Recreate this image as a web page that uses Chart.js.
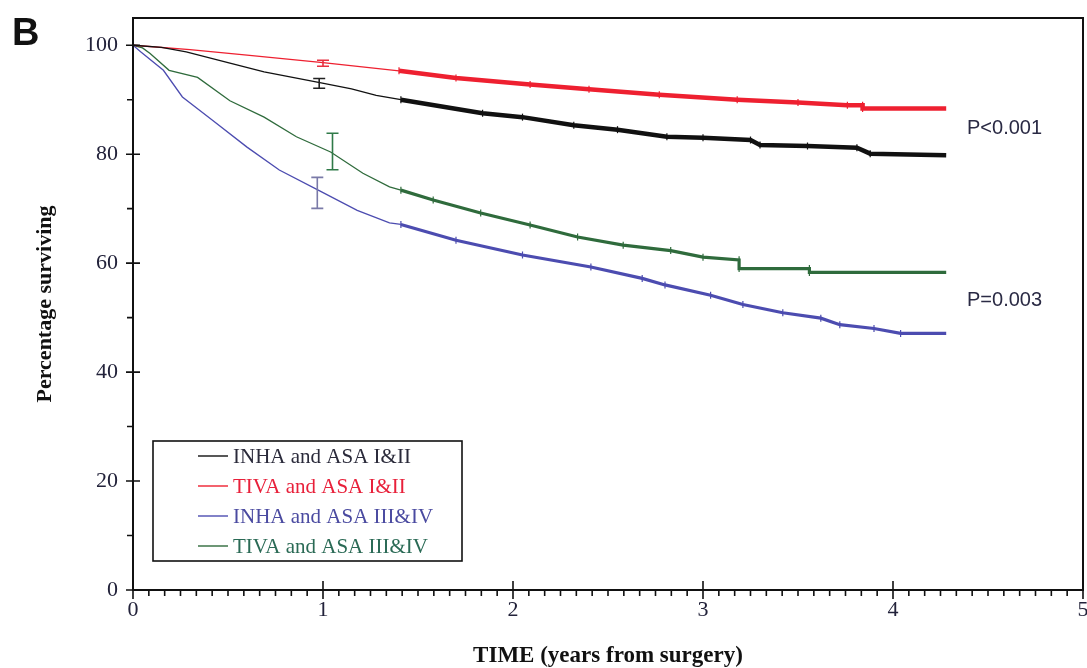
<!DOCTYPE html>
<html>
<head>
<meta charset="utf-8">
<script src="https://cdn.jsdelivr.net/npm/chart.js@4.4.0/dist/chart.umd.min.js"></script>
<style>
  html, body { margin: 0; padding: 0; background: #fff; }
  #wrap { width: 1087px; height: 668px; position: relative; }
</style>
</head>
<body>
<div id="wrap"><canvas id="survival"></canvas></div>
<script>
// Kaplan-Meier curves, time in years, survival in percent
var inhaLowT  = [0, 0.15, 0.28, 0.5, 0.69, 0.99, 1.15, 1.28, 1.41, 1.84, 2.05, 2.32, 2.55, 2.81, 3.0, 3.25, 3.3, 3.55, 3.81, 3.88, 4.28];
var inhaLowV  = [100, 99.6, 98.8, 96.8, 95.1, 93.1, 92.0, 90.8, 90.0, 87.5, 86.8, 85.3, 84.5, 83.2, 83.0, 82.6, 81.7, 81.5, 81.2, 80.1, 79.8];

var tivaLowT  = [0, 0.3, 0.6, 1.0, 1.4, 1.7, 2.09, 2.4, 2.77, 3.18, 3.5, 3.76, 3.84, 3.84, 4.28];
var tivaLowV  = [100, 99.2, 98.2, 96.8, 95.3, 94.0, 92.8, 91.9, 90.9, 90.0, 89.5, 89.0, 89.0, 88.4, 88.4];

var inhaHighT = [0, 0.04, 0.16, 0.26, 0.42, 0.6, 0.77, 0.98, 1.18, 1.35, 1.41, 1.7, 2.05, 2.41, 2.68, 2.8, 3.04, 3.21, 3.42, 3.62, 3.72, 3.9, 4.04, 4.28];
var inhaHighV = [100, 98.8, 95.4, 90.5, 86.2, 81.3, 77.1, 73.3, 69.7, 67.4, 67.1, 64.2, 61.5, 59.3, 57.2, 56.0, 54.1, 52.4, 50.9, 49.9, 48.7, 48.0, 47.1, 47.1];

var tivaHighT = [0, 0.05, 0.09, 0.19, 0.34, 0.51, 0.69, 0.86, 1.04, 1.21, 1.35, 1.41, 1.58, 1.83, 2.09, 2.34, 2.58, 2.83, 3.0, 3.19, 3.19, 3.56, 3.56, 4.28];
var tivaHighV = [100, 99.5, 98.5, 95.4, 94.1, 89.8, 86.8, 83.2, 80.4, 76.5, 74.0, 73.4, 71.6, 69.2, 67.0, 64.8, 63.3, 62.3, 61.1, 60.6, 59.0, 59.0, 58.3, 58.3];

var groupLabels = ['INHA and ASA I&II', 'TIVA and ASA I&II', 'INHA and ASA III&IV', 'TIVA and ASA III&IV'];

// 1-year estimates with confidence bars (same order as groupLabels)
var errT    = [0.98, 1.0, 0.97, 1.05];
var errV    = [93.0, 96.7, 72.9, 80.5];
var errHalf = [0.9, 0.55, 2.85, 3.35];

var pLabels = ['P<0.001', 'P=0.003'];
var pLevels = [84.8, 53.2];

var xTicks = [0, 1, 2, 3, 4, 5];
var yTicks = [0, 20, 40, 60, 80, 100];

var lineColors = ['#111111', '#ee2030', '#4c4cb0', '#2f6b3c'];
var textColors = ['#2a2a3a', '#e8203a', '#4a4aa0', '#2a6a55'];
var barColors  = ['#222222', '#e83040', '#7a7aa8', '#2f7a48'];

function points(ts, vs) {
  return ts.map(function (t, i) { return { x: t, y: vs[i] }; });
}

var censorFrom = 1.4;

function makeSet(i, ts, vs, band) {
  return {
    label: groupLabels[i],
    data: points(ts, vs),
    borderColor: lineColors[i],
    backgroundColor: lineColors[i],
    borderWidth: 1.3,
    tension: 0,
    fill: false,
    pointStyle: 'line',
    rotation: 90,
    pointBorderWidth: 1.2,
    pointRadius: function (ctx) { return ctx.raw && ctx.raw.x >= censorFrom && ctx.raw.x < 4.28 ? 3.5 : 0; },
    pointHoverRadius: 0,
    segment: {
      borderWidth: function (ctx) { return ctx.p0.parsed.x >= censorFrom - 0.01 ? band : 1.3; }
    }
  };
}

var serif = '"Liberation Serif", "Times New Roman", serif';
var sans = '"Liberation Sans", Arial, sans-serif';

// keep the plot box where the layout padding puts it
function noTickOverflow(s) {
  s.paddingTop = 0; s.paddingBottom = 0; s.paddingLeft = 0; s.paddingRight = 0;
}

// axes ticks, frame, error bars, p-values, legend box and panel letter
var decor = {
  id: 'decor',
  afterDatasetsDraw: function (chart) {
    var c = chart.ctx, xs = chart.scales.x, ys = chart.scales.y, a = chart.chartArea;
    c.save();

    // confidence bars at one year
    for (var i = 0; i < errT.length; i++) {
      var px = xs.getPixelForValue(errT[i]);
      var top = ys.getPixelForValue(errV[i] + errHalf[i]);
      var bot = ys.getPixelForValue(errV[i] - errHalf[i]);
      c.strokeStyle = barColors[i];
      c.lineWidth = 1.6;
      c.beginPath();
      c.moveTo(px, top); c.lineTo(px, bot);
      c.moveTo(px - 6, top); c.lineTo(px + 6, top);
      c.moveTo(px - 6, bot); c.lineTo(px + 6, bot);
      c.stroke();
    }

    // frame
    c.strokeStyle = '#111';
    c.lineWidth = 2;
    c.strokeRect(a.left, a.top, a.right - a.left, a.bottom - a.top);

    // y ticks: majors cross the axis, minors on the outside
    c.lineWidth = 1.6;
    c.beginPath();
    for (var v = 0; v <= 100; v += 10) {
      var py = ys.getPixelForValue(v);
      if (v % 20 === 0) { c.moveTo(a.left - 7, py); c.lineTo(a.left + 7, py); }
      else { c.moveTo(a.left - 6, py); c.lineTo(a.left, py); }
    }
    // x ticks: one per month, majors every year
    for (var m = 0; m <= 60; m++) {
      var qx = xs.getPixelForValue(m / 12);
      if (m % 12 === 0) { c.moveTo(qx, a.bottom - 9); c.lineTo(qx, a.bottom + 9); }
      else { c.moveTo(qx, a.bottom); c.lineTo(qx, a.bottom + 6); }
    }
    c.stroke();

    // p-values
    c.fillStyle = '#2a2a44';
    c.font = '20px ' + sans;
    c.textAlign = 'left';
    c.textBaseline = 'middle';
    for (var k = 0; k < pLabels.length; k++) {
      c.fillText(pLabels[k], 967, ys.getPixelForValue(pLevels[k]));
    }

    // legend
    var lx = 153, ly = 441, lw = 309, lh = 120;
    c.fillStyle = '#fff';
    c.fillRect(lx, ly, lw, lh);
    c.strokeStyle = '#111';
    c.lineWidth = 1.6;
    c.strokeRect(lx, ly, lw, lh);
    c.font = '21px ' + serif;
    chart.data.datasets.forEach(function (ds, j) {
      var ry = ly + 15 + j * 30;
      c.strokeStyle = ds.borderColor;
      c.lineWidth = 1.4;
      c.beginPath();
      c.moveTo(lx + 45, ry); c.lineTo(lx + 75, ry);
      c.stroke();
      c.fillStyle = textColors[j];
      c.fillText(ds.label, lx + 80, ry + 1);
    });

    // panel letter
    c.fillStyle = '#111';
    c.font = 'bold 38px ' + sans;
    c.textBaseline = 'alphabetic';
    c.fillText('B', 12, 45);

    c.restore();
  }
};

var ctx = document.getElementById('survival').getContext('2d');
var survivalChart = new Chart(ctx, {
  type: 'line',
  data: {
    datasets: [
      makeSet(0, inhaLowT, inhaLowV, 4.5),
      makeSet(1, tivaLowT, tivaLowV, 4.5),
      makeSet(2, inhaHighT, inhaHighV, 3.2),
      makeSet(3, tivaHighT, tivaHighV, 3.2)
    ]
  },
  options: {
    responsive: true,
    maintainAspectRatio: false,
    animation: false,
    devicePixelRatio: 1,
    layout: { padding: { left: 29, top: 18, right: 4, bottom: 0 } },
    plugins: {
      legend: { display: false },
      tooltip: { enabled: false }
    },
    scales: {
      x: {
        type: 'linear',
        min: 0,
        max: 5,
        afterFit: function (s) { s.height = 78; noTickOverflow(s); },
        afterBuildTicks: function (s) { s.ticks = xTicks.map(function (t) { return { value: t }; }); },
        grid: { display: false, drawTicks: false },
        border: { display: false },
        ticks: { color: '#22223a', font: { family: serif, size: 22 }, padding: 7, maxRotation: 0 },
        title: {
          display: true,
          text: 'TIME (years from surgery)',
          color: '#111',
          font: { family: serif, size: 23, weight: 'bold' },
          padding: { top: 2, bottom: -2 }
        }
      },
      y: {
        type: 'linear',
        min: 0,
        max: 105,
        afterFit: function (s) { s.width = 133 - 29; noTickOverflow(s); },
        afterBuildTicks: function (s) { s.ticks = yTicks.map(function (t) { return { value: t }; }); },
        grid: { display: false, drawTicks: false },
        border: { display: false },
        ticks: { color: '#22223a', font: { family: serif, size: 22 }, padding: 15 },
        title: {
          display: true,
          text: 'Percentage surviving',
          color: '#111',
          font: { family: serif, size: 22, weight: 'bold' },
          padding: { top: 3, bottom: 3 }
        }
      }
    }
  },
  plugins: [decor]
});
</script>
</body>
</html>
